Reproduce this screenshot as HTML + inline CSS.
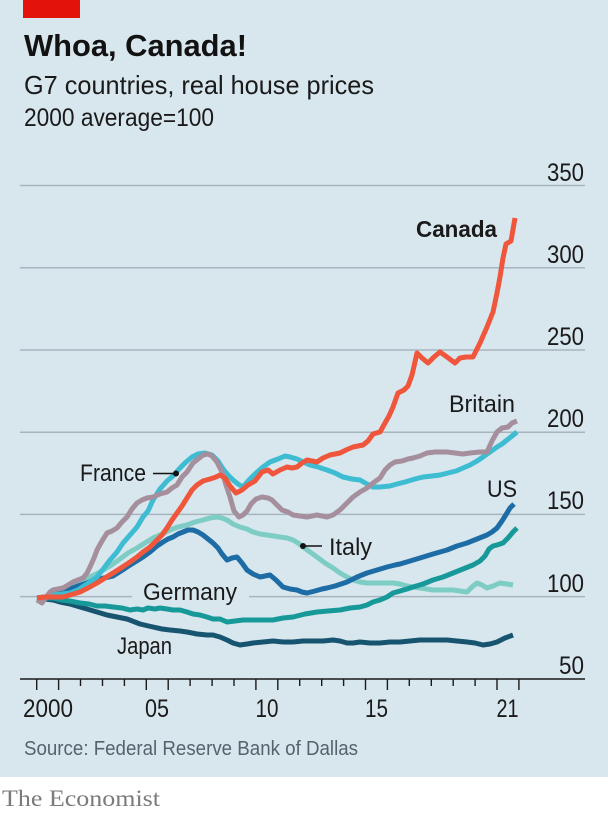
<!DOCTYPE html>
<html>
<head>
<meta charset="utf-8">
<style>
html,body{margin:0;padding:0;background:#fff;}
svg{display:block;}
</style>
</head>
<body>
<svg width="608" height="814" viewBox="0 0 608 814" xmlns="http://www.w3.org/2000/svg" font-family="'Liberation Sans', sans-serif">
<rect x="0" y="0" width="608" height="777" fill="#d8e6ee"/>
<rect x="0" y="777" width="608" height="37" fill="#ffffff"/>
<rect x="23" y="0" width="57" height="18" fill="#e3120b"/>

<text x="24" y="56" font-size="31" font-weight="bold" fill="#121212" textLength="223" lengthAdjust="spacingAndGlyphs">Whoa, Canada!</text>
<text x="24" y="94" font-size="26" fill="#1a1a1a" textLength="350" lengthAdjust="spacingAndGlyphs">G7 countries, real house prices</text>
<text x="24" y="126" font-size="25" fill="#1a1a1a" textLength="190" lengthAdjust="spacingAndGlyphs">2000 average=100</text>

<!-- gridlines -->
<g stroke="#a7b4bd" stroke-width="1.5">
<line x1="20" y1="185.5" x2="585" y2="185.5"/>
<line x1="20" y1="267.7" x2="585" y2="267.7"/>
<line x1="20" y1="350" x2="585" y2="350"/>
<line x1="20" y1="432.2" x2="585" y2="432.2"/>
<line x1="20" y1="514.4" x2="585" y2="514.4"/>
<line x1="20" y1="596.6" x2="132" y2="596.6"/>
<line x1="249" y1="596.6" x2="585" y2="596.6"/>
</g>

<!-- right axis labels -->
<g font-size="25" fill="#1a1a1a" text-anchor="end">
<text x="584" y="181" textLength="37" lengthAdjust="spacingAndGlyphs">350</text>
<text x="584" y="263" textLength="37" lengthAdjust="spacingAndGlyphs">300</text>
<text x="584" y="345" textLength="37" lengthAdjust="spacingAndGlyphs">250</text>
<text x="584" y="427" textLength="37" lengthAdjust="spacingAndGlyphs">200</text>
<text x="584" y="509" textLength="37" lengthAdjust="spacingAndGlyphs">150</text>
<text x="584" y="592" textLength="37" lengthAdjust="spacingAndGlyphs">100</text>
<text x="584" y="674" textLength="25" lengthAdjust="spacingAndGlyphs">50</text>
</g>

<!-- series -->
<g fill="none" stroke-width="5" stroke-linejoin="round" stroke-linecap="butt">
<polyline stroke="#7dcdc4" points="37,598 45,597 53,594 62,590 70,586 80,581 90,577 100,572 110,566 120,559 128,553 137,548 145,543 153,538 162,534 170,530 178,527 187,525 195,522 203,520 210,518 217,517 222,518 227,520 233,524 240,527 247,529 253,532 260,534 267,535 274,536 280,537 287,538 293,540 298,543 303,547 310,552 317,557 325,563 333,568 340,573 347,577 353,580 360,582 367,583 373,583 380,583 387,583 393,583 400,584 407,586 413,587 420,588 427,589 433,590 440,590 447,590 453,590 460,591 467,592 472,587 477,583 482,585 487,588 493,586 500,583 507,584 513,585"/>
<polyline stroke="#17546f" points="37,598 45,599 53,600 60,602 70,604 80,607 87,609 97,612 107,615 117,617 127,619 140,624 153,627 162,629 170,630 180,631 187,632 197,634 207,635 213,635 220,637 227,640 233,643 240,645 247,644 253,643 263,642 273,641 283,642 293,642 303,641 313,641 323,641 333,640 340,641 347,643 353,643 360,642 370,643 380,643 390,642 400,642 410,641 420,640 433,640 447,640 457,641 467,642 475,643 483,645 490,644 497,642 505,638 513,635"/>
<polyline stroke="#17999a" points="37,598 45,598 53,598 62,600 70,601 80,603 89,604 97,606 105,606 113,607 122,608 130,610 137,609 143,610 148,608 155,609 160,608 167,609 173,610 180,610 187,612 193,614 200,615 207,617 213,619 220,619 227,622 235,621 243,620 250,620 260,620 273,620 283,618 293,617 305,614 317,612 328,611 340,610 350,608 360,607 367,605 373,602 380,600 387,597 393,593 400,591 407,589 413,587 423,584 433,580 443,577 453,573 463,569 473,565 480,561 485,556 489,549 493,546 497,545 503,543 508,538 513,532 517,528"/>
<polyline stroke="#1e6ca5" points="37,598 45,597 53,595 62,592 70,589 78,586 87,583 95,580 104,578 113,576 121,571 127,567 135,562 143,557 150,552 157,546 163,542 168,539 173,537 178,534 183,532 188,530 193,530 198,532 203,535 208,539 213,543 218,548 222,554 227,560 232,558 237,557 242,563 247,570 253,574 260,577 265,576 270,575 276,580 283,587 290,589 297,590 302,592 307,593 315,591 322,589 327,588 335,586 347,582 357,577 367,573 377,570 387,567 395,565 400,564 410,561 420,558 433,554 447,550 457,546 467,543 477,539 487,535 492,532 497,528 502,521 507,513 510,508 514,504"/>
<polyline stroke="#3dbcd2" points="37,598 45,597 53,595 62,594 70,593 78,590 87,584 97,577 104,568 110,560 117,552 123,543 130,535 137,527 143,517 148,511 153,500 160,489 167,481 173,476 180,468 186,462 192,457 198,454 205,453 212,455 218,461 223,469 228,475 233,480 238,484 243,487 248,481 255,474 263,467 270,462 278,459 285,456 290,457 297,459 303,462 310,465 318,467 327,470 335,473 343,477 352,479 360,480 367,484 373,487 380,487 390,486 397,484 405,482 415,479 423,477 432,476 440,475 448,473 456,471 463,468 470,465 477,461 483,457 490,452 497,447 502,444 507,440 512,436 517,432"/>
<polyline stroke="#a68f9c" points="37,600 42,603 46,597 50,592 53,590 58,589 63,588 68,585 73,582 78,580 83,578 87,573 90,567 94,558 97,550 102,541 107,533 112,531 117,528 122,522 127,517 132,509 137,503 142,500 147,498 153,497 160,494 167,492 172,488 177,485 182,477 187,472 193,463 198,459 203,455 208,454 212,456 217,462 222,472 226,485 230,497 234,511 239,517 243,515 247,511 251,504 256,499 262,497 268,498 272,500 277,505 282,510 288,512 293,515 300,516 307,517 312,516 317,515 322,516 327,517 333,515 340,510 346,504 353,497 360,492 367,488 373,483 380,478 385,470 390,465 395,462 402,461 408,459 413,458 420,456 427,453 435,452 447,452 455,453 463,454 470,453 480,452 487,452 492,441 497,432 502,428 508,427 512,423 517,421"/>
<polyline stroke="#ef563b" points="37,598 45,597 53,597 63,597 70,595 80,592 88,588 97,583 105,578 113,573 121,568 130,562 137,557 143,552 150,547 156,541 162,535 167,528 172,520 177,513 182,506 187,498 192,490 197,485 203,481 210,479 216,477 220,475 225,478 230,486 236,493 242,490 248,485 255,481 262,472 268,470 273,474 280,470 287,467 292,468 297,467 302,463 307,460 312,461 317,462 323,458 330,455 335,454 340,453 346,450 353,447 358,446 363,445 368,441 373,434 380,432 385,423 389,416 393,407 398,393 404,390 408,386 412,375 417,353 422,358 428,363 434,357 440,352 447,357 455,363 460,358 466,357 473,357 480,343 487,327 493,312 497,293 500,277 503,258 506,244 511,241 515,218"/>
</g>

<!-- series labels -->
<g font-size="24" fill="#1a1a1a">
<text x="416" y="237" font-weight="bold" font-size="23" textLength="81" lengthAdjust="spacingAndGlyphs">Canada</text>
<text x="449" y="412" textLength="66" lengthAdjust="spacingAndGlyphs">Britain</text>
<text x="487" y="497" textLength="30" lengthAdjust="spacingAndGlyphs">US</text>
<text x="80" y="481" textLength="66" lengthAdjust="spacingAndGlyphs">France</text>
<text x="329" y="555" textLength="43" lengthAdjust="spacingAndGlyphs">Italy</text>
<text x="143" y="600" textLength="94" lengthAdjust="spacingAndGlyphs">Germany</text>
<text x="117" y="654" textLength="55" lengthAdjust="spacingAndGlyphs">Japan</text>
</g>
<g stroke="#121212" stroke-width="1.6">
<line x1="153" y1="473.5" x2="176" y2="473.5"/>
<line x1="303" y1="546" x2="322" y2="546"/>
</g>
<circle cx="176" cy="473.5" r="3" fill="#121212"/>
<circle cx="303" cy="546" r="3" fill="#121212"/>

<!-- x axis -->
<line x1="20" y1="679" x2="585" y2="679" stroke="#1a1a1a" stroke-width="1.6"/>
<g stroke="#1a1a1a" stroke-width="1.4">
<line x1="36.7" y1="679" x2="36.7" y2="690"/>
<line x1="58.6" y1="679" x2="58.6" y2="690"/>
<line x1="80.5" y1="679" x2="80.5" y2="686"/>
<line x1="102.5" y1="679" x2="102.5" y2="686"/>
<line x1="124.4" y1="679" x2="124.4" y2="686"/>
<line x1="146.3" y1="679" x2="146.3" y2="690"/>
<line x1="168.2" y1="679" x2="168.2" y2="690"/>
<line x1="190.1" y1="679" x2="190.1" y2="686"/>
<line x1="212.1" y1="679" x2="212.1" y2="686"/>
<line x1="234.0" y1="679" x2="234.0" y2="686"/>
<line x1="255.9" y1="679" x2="255.9" y2="690"/>
<line x1="277.8" y1="679" x2="277.8" y2="690"/>
<line x1="299.7" y1="679" x2="299.7" y2="686"/>
<line x1="321.7" y1="679" x2="321.7" y2="686"/>
<line x1="343.6" y1="679" x2="343.6" y2="686"/>
<line x1="365.5" y1="679" x2="365.5" y2="690"/>
<line x1="387.4" y1="679" x2="387.4" y2="690"/>
<line x1="409.3" y1="679" x2="409.3" y2="686"/>
<line x1="431.3" y1="679" x2="431.3" y2="686"/>
<line x1="453.2" y1="679" x2="453.2" y2="686"/>
<line x1="475.1" y1="679" x2="475.1" y2="686"/>
<line x1="497.0" y1="679" x2="497.0" y2="690"/>
<line x1="518.9" y1="679" x2="518.9" y2="690"/>
</g>
<g font-size="25" fill="#1a1a1a" text-anchor="middle">
<text x="48" y="717" textLength="50" lengthAdjust="spacingAndGlyphs">2000</text>
<text x="157" y="717" textLength="24" lengthAdjust="spacingAndGlyphs">05</text>
<text x="267" y="717" textLength="23" lengthAdjust="spacingAndGlyphs">10</text>
<text x="376.5" y="717" textLength="23" lengthAdjust="spacingAndGlyphs">15</text>
<text x="507.5" y="717" textLength="22" lengthAdjust="spacingAndGlyphs">21</text>
</g>

<text x="24" y="755" font-size="20" fill="#57636c" textLength="334" lengthAdjust="spacingAndGlyphs">Source: Federal Reserve Bank of Dallas</text>
<text x="2" y="806" font-size="23" fill="#7b7b7b" font-family="'Liberation Serif', serif" textLength="158" lengthAdjust="spacingAndGlyphs">The Economist</text>
</svg>
</body>
</html>
